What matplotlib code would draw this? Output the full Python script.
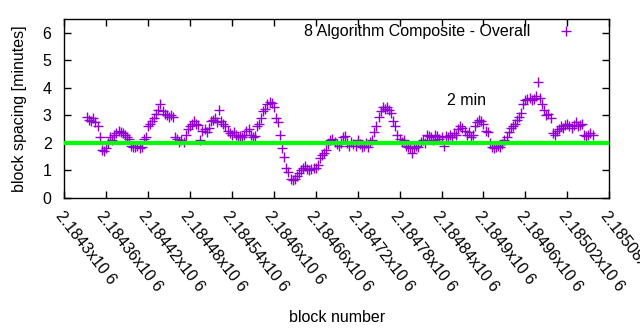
import numpy as np
import matplotlib
matplotlib.use("Agg")
import matplotlib.pyplot as plt

plt.rcParams["font.family"] = ["Liberation Sans", "DejaVu Sans"]
plt.rcParams["font.size"] = 11.5

# block heights (every third block) and block spacing in minutes
first_block = 2184333
block_step = 3
spacing = [
    2.95, 2.85, 2.8, 2.9, 2.75, 2.6, 2.2, 1.75, 1.7, 1.8,
    2.0, 2.2, 2.1, 2.3, 2.35, 2.45, 2.4, 2.35, 2.3, 2.2,
    2.15, 1.9, 1.85, 1.85, 1.9, 1.8, 1.85, 2.15, 2.2, 2.6,
    2.7, 2.8, 2.9, 3.05, 3.2, 3.4, 3.15, 3.05, 3.0, 2.95,
    3.0, 2.95, 2.2, 2.15, 2.05, 2.1, 2.05, 2.3, 2.5, 2.6,
    2.7, 2.8, 2.7, 2.65, 2.1, 2.45, 2.5, 2.4, 2.55, 2.8,
    2.85, 2.9, 2.75, 3.2, 2.8, 2.7, 2.6, 2.45, 2.35, 2.3,
    2.4, 2.3, 2.2, 2.25, 2.2, 2.3, 2.45, 2.5, 2.3, 2.2,
    2.25, 2.6, 2.7, 2.9, 3.15, 3.25, 3.4, 3.5, 3.45, 3.3,
    2.9, 2.75, 2.3, 1.8, 1.5, 1.1, 0.95, 0.7, 0.65, 0.7,
    0.8, 0.9, 1.0, 1.1, 1.15, 1.05, 1.0, 1.05, 1.1, 1.1,
    1.2, 1.45, 1.55, 1.65, 1.75, 1.95, 2.1, 2.15, 2.05, 1.95,
    1.9, 2.0, 2.2, 2.25, 2.0, 1.9, 2.05, 1.95, 1.9, 2.1,
    1.95, 1.85, 1.9, 2.0, 1.85, 2.05, 2.1, 2.4, 2.6, 2.95,
    3.15, 3.3, 3.25, 3.3, 3.2, 3.1, 2.8, 2.6, 2.3, 2.15,
    2.05, 2.1, 1.9, 1.85, 1.8, 1.65, 1.8, 1.9, 1.85, 2.05,
    2.1, 2.0, 2.3, 2.25, 2.2, 2.1, 2.3, 2.25, 2.15, 2.2,
    1.9, 2.25, 2.2, 2.3, 2.2, 2.35, 2.3, 2.5, 2.6, 2.55,
    2.45, 2.3, 2.4, 2.2, 2.3, 2.6, 2.75, 2.85, 2.8, 2.7,
    2.45, 2.4, 2.0, 1.85, 1.8, 1.85, 1.9, 1.85, 1.95, 2.1,
    2.2, 2.4, 2.55, 2.6, 2.7, 2.85, 2.95, 3.1, 3.4, 3.55,
    3.6, 3.65, 3.55, 3.6, 3.7, 4.2, 3.65, 3.4, 3.2, 3.0,
    3.05, 2.9, 2.35, 2.3, 2.45, 2.5, 2.6, 2.55, 2.65, 2.7,
    2.6, 2.55, 2.65, 2.75, 2.6, 2.65, 2.7, 2.3, 2.25, 2.3,
    2.35, 2.3,
]
blocks = first_block + block_step * np.arange(len(spacing))

target = 2.0
target_label = "2 min"
series_label = "8 Algorithm Composite - Overall"

x_ticks = np.arange(2184300, 2185081, 60)
tick_labels = [("%.6g" % (t / 1e6)) + "x10 6" for t in x_ticks]

fig = plt.figure(figsize=(6.4, 3.3), dpi=100)
ax = fig.add_axes([0.1, 0.4, 0.852, 0.542])

ax.plot(blocks, spacing, "+", color="#9400d3", markersize=7,
        markeredgewidth=1.0, label=series_label)
ax.hlines(target, x_ticks[0], x_ticks[-1], color="#00ff00", linewidth=3,
          zorder=3)
ax.text(2184848, 3.53, target_label, ha="left", va="center")

ax.set_xlim(x_ticks[0], x_ticks[-1])
ax.set_ylim(0, 6.5)
ax.set_yticks(range(0, 7))
ax.set_xticks(x_ticks)
ax.set_xticklabels(tick_labels, rotation=-52, ha="left", va="top",
                   rotation_mode="anchor")
ax.tick_params(direction="in", top=True, right=True, length=5, width=1)
ax.tick_params(axis="y", pad=9)
ax.tick_params(axis="x", pad=8)
for s in ax.spines.values():
    s.set_linewidth(1)

ax.set_xlabel("block number", labelpad=11)
ax.set_ylabel("block spacing [minutes]", labelpad=11)

ax.legend(loc="center right", bbox_to_anchor=(0.9495, 0.929), frameon=False,
          markerfirst=False, borderpad=0, borderaxespad=0,
          handletextpad=1.2, handlelength=2.0)

fig.savefig("out.png", dpi=100)
